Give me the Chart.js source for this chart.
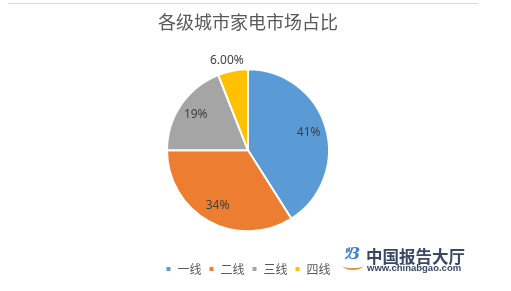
<!DOCTYPE html>
<html lang="zh">
<head>
  <meta charset="UTF-8">
  <title>各级城市家电市场占比</title>
  <script src="https://cdn.jsdelivr.net/npm/chart.js"></script>
  <style>
    body { margin: 0; background: #fff; font-family: 'Noto Sans CJK SC', sans-serif; }
    .wrap { position: relative; width: 511px; height: 291px; }
    .topline { position: absolute; left: 8px; top: 3px; width: 470px; border-top: 1px solid #d9d9d9; }
    canvas { position: absolute; left: 0; top: 0; }
    .mark { position: absolute; left: 343px; top: 242px; width: 140px; height: 32px; }
    .logo { position: absolute; left: 0; top: 2px; color: #3f7fcf; font: italic bold 16px 'DejaVu Serif', serif; letter-spacing: -2px; }
    .book { position: absolute; left: 0; top: 20px; width: 20px; height: 6px; border-bottom: 2px solid #e8913a; border-radius: 0 0 50% 50%; }
    .cn { position: absolute; left: 23px; top: 2px; font-size: 16.5px; font-weight: bold; color: #3a4766; letter-spacing: 0px; white-space: nowrap; }
    .url { position: absolute; left: 24px; top: 20px; font: bold 9.5px 'Liberation Sans', sans-serif; color: #3a4766; white-space: nowrap; }
  </style>
</head>
<body>
  <div class="wrap">
    <div class="topline"></div>
    <canvas id="pieChart" width="511" height="291"></canvas>
    <div class="mark">
      <span class="logo">ﾂ3</span>
      <div class="book"></div>
      <span class="cn">中国报告大厅</span>
      <span class="url">www.chinabgao.com</span>
    </div>
  </div>

  <script>
    const titleText = '各级城市家电市场占比';
    const categories = ['一线', '二线', '三线', '四线'];
    const shares = [41, 34, 19, 6];
    const shareLabels = ['41%', '34%', '19%', '6.00%'];
    const colors = ['#5b9bd5', '#ed7d31', '#a5a5a5', '#ffc000'];

    // draws the percentage on each slice (last one sits outside)
    const sliceLabels = {
      id: 'sliceLabels',
      afterDatasetsDraw(chart) {
        const ctx = chart.ctx;
        const arcs = chart.getDatasetMeta(0).data;
        ctx.save();
        ctx.font = '12px "Noto Sans", sans-serif';
        ctx.fillStyle = '#404040';
        ctx.textAlign = 'center';
        ctx.textBaseline = 'middle';
        arcs.forEach((arc, i) => {
          const { x, y, startAngle, endAngle, outerRadius } = arc.getProps(['x', 'y', 'startAngle', 'endAngle', 'outerRadius'], true);
          const mid = (startAngle + endAngle) / 2;
          const dist = i === 3 ? outerRadius * 1.13 : outerRadius * 0.78;
          const dx = i === 3 ? -4 : 0;
          ctx.fillText(shareLabels[i], x + Math.cos(mid) * dist + dx, y + Math.sin(mid) * dist);
        });
        ctx.restore();
      }
    };

    new Chart(document.getElementById('pieChart'), {
      type: 'pie',
      data: {
        labels: categories,
        datasets: [{
          data: shares,
          backgroundColor: colors,
          borderColor: '#ffffff',
          borderWidth: 2,
          radius: 81
        }]
      },
      options: {
        responsive: false,
        animation: false,
        layout: { padding: { left: 0, right: 15, top: 0, bottom: 6 } },
        plugins: {
          title: {
            display: true,
            text: titleText,
            color: '#595959',
            font: { size: 18, weight: 'normal', family: '"Noto Sans CJK SC", sans-serif' },
            padding: { top: 11, bottom: 12 }
          },
          legend: {
            position: 'bottom',
            labels: {
              boxWidth: 6,
              boxHeight: 6,
              padding: 7,
              color: '#595959',
              font: { size: 12, family: '"Noto Sans CJK SC", sans-serif' }
            }
          },
          tooltip: { enabled: false }
        }
      },
      plugins: [sliceLabels]
    });
  </script>
</body>
</html>
